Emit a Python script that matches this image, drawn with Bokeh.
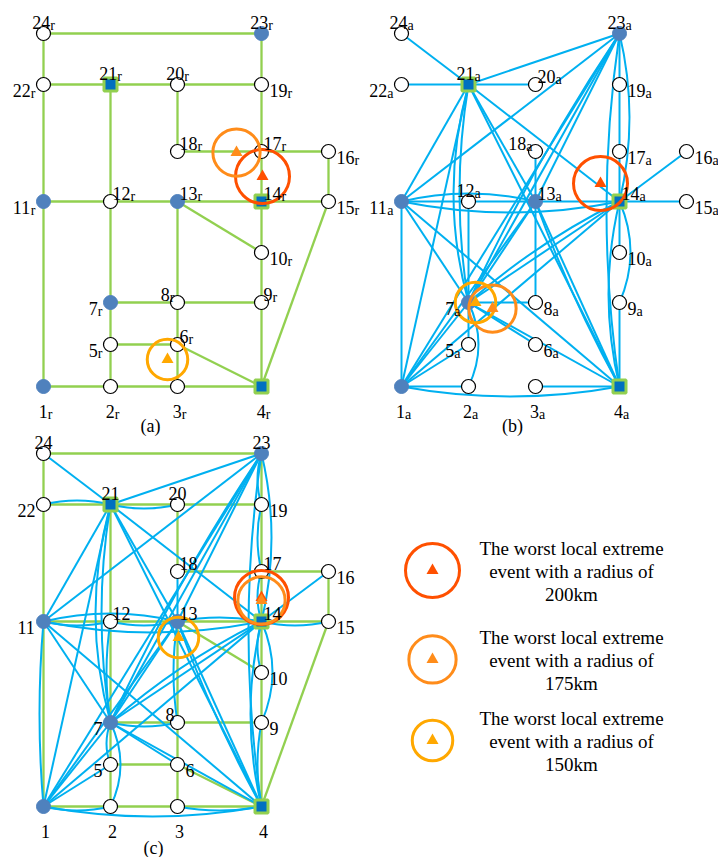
import math
from bokeh.plotting import figure
from bokeh.models import Range1d, ColumnDataSource
from bokeh.core.properties import value
from bokeh.embed import file_html
from bokeh.resources import INLINE

# ---------------- data ----------------
node_ids = list(range(1, 25))
# node coordinates on the map of one panel
node_x = [43, 110, 177, 261, 110, 177, 110, 177, 261, 261, 43, 110,
          177, 261, 328, 328, 261, 177, 261, 177, 110, 43, 261, 43]
node_y = [386, 386, 386, 386, 344, 344, 302, 302, 302, 252, 201, 201,
          201, 201, 201, 151, 151, 151, 84, 84, 84, 84, 33, 33]
source_nodes = [1, 7, 11, 13, 23]     # filled blue nodes
hub_nodes = [4, 14, 21]               # square nodes

road_edges = [(24, 23), (24, 22), (22, 21), (21, 20), (20, 19), (23, 19),
              (22, 11), (21, 12), (20, 18), (19, 17), (18, 17), (17, 16),
              (17, 14), (16, 15), (11, 12), (12, 13), (13, 14), (14, 15),
              (13, 10), (14, 10), (12, 7), (13, 8), (10, 9), (15, 4),
              (7, 8), (8, 9), (7, 5), (8, 6), (9, 4), (5, 6), (6, 4),
              (6, 3), (5, 2), (11, 1), (1, 2), (2, 3), (3, 4)]

# communication links: (from, to, bow)
comm_edges = [(21, 24, 0), (21, 22, 0), (21, 20, 0), (21, 23, 0), (21, 11, 0),
              (21, 1, 0), (21, 13, 0), (21, 4, 0), (21, 14, 0),
              (21, 7, 9), (21, 7, 15),
              (23, 11, 0), (23, 13, 0), (23, 7, 0), (23, 7, 6), (23, 1, 0),
              (23, 19, 0), (19, 17, 0), (17, 14, 0), (23, 14, -10), (23, 4, 13),
              (14, 13, 0), (14, 15, 0), (14, 16, 0), (14, 10, 0),
              (14, 7, 0), (14, 7, 6), (14, 1, 0), (14, 4, 11), (14, 9, -11),
              (13, 18, 0), (13, 8, 0), (12, 13, 0), (11, 12, 0),
              (13, 7, 0), (13, 1, 0), (13, 4, 0), (13, 4, 4),
              (11, 13, -8), (11, 14, 11),
              (11, 1, 0), (11, 7, 0), (11, 4, 0),
              (12, 7, 0), (7, 5, 0), (7, 8, 0), (7, 6, 0), (7, 4, 0), (7, 1, 0),
              (7, 2, -10), (1, 5, 0), (1, 2, 0), (1, 4, 10), (3, 4, 0), (9, 4, 0)]

event_km = [200, 175, 150]
event_colors = ["#ff5000", "#ff8c1a", "#ffa800"]
events_a = {"x": [262, 236, 167], "y": [176, 152, 359]}
events_b = {"x": [242, 134, 117], "y": [183, 308, 302]}
events_c = {"x": [261, 261, 178], "y": [177, 180, 217]}

legend_lines = [["The worst local extreme", "event with a radius of", "200km"],
                ["The worst local extreme", "event with a radius of", "175km"],
                ["The worst local extreme", "event with a radius of", "150km"]]

label_pos_a = {24: "above", 23: "above", 22: "left", 21: "above", 20: "above", 19: "right",
               18: "ar", 17: "ar", 16: "right", 11: "left", 12: "ar", 13: "ar", 14: "ar",
               15: "right", 10: "right", 9: "ar", 8: "al", 7: "left", 5: "left", 6: "ar",
               1: "below", 2: "below", 3: "below", 4: "below"}
label_pos_b = {24: "above", 23: "above", 22: "left", 21: "above", 20: "ar", 19: "right",
               18: "al", 17: "right", 16: "right", 11: "left", 12: "above", 13: "ar", 14: "ar",
               15: "right", 10: "right", 9: "right", 8: "right", 7: "left", 5: "left", 6: "right",
               1: "below", 2: "below", 3: "below", 4: "below"}
label_pos_c = {24: "above", 23: "above", 22: "left", 21: "above", 20: "above", 19: "right",
               18: "ar", 17: "ar", 16: "right", 11: "left", 12: "ar", 13: "ar", 14: "ar",
               15: "right", 10: "right", 9: "right", 8: "al", 7: "left", 5: "left", 6: "right",
               1: "below", 2: "below", 3: "below", 4: "below"}

panels = [("a", (0, 0), "r", label_pos_a, events_a, "(a)"),
          ("b", (358, 0), "a", label_pos_b, events_b, "(b)"),
          ("c", (0, 420), "", label_pos_c, events_c, "(c)")]

# ---------------- styles ----------------
GREEN = "#92d050"
BLUE = "#00b0f0"
DOT = "#4f81bd"
SQ = "#0070c0"
FONT = value("Liberation Serif")
KM_TO_PX = 0.27

W, H = 718, 857
p = figure(width=W, height=H, x_range=Range1d(0, W), y_range=Range1d(H, 0),
           output_backend="svg", toolbar_location=None, min_border=0)
p.axis.visible = False
p.grid.visible = False
p.outline_line_color = None
p.background_fill_color = "white"

pos = {n: (node_x[i], node_y[i]) for i, n in enumerate(node_ids)}
road_set = set(frozenset(e) for e in road_edges)


def draw_segments(edges, dx, dy, color, width, bow_override=None):
    sx0, sy0, sx1, sy1 = [], [], [], []
    q = {"x0": [], "y0": [], "x1": [], "y1": [], "cx": [], "cy": []}
    for a, b, bow in edges:
        if bow_override is not None and bow == 0 and frozenset((a, b)) in road_set:
            bow = bow_override
        x0, y0 = pos[a][0] + dx, pos[a][1] + dy
        x1, y1 = pos[b][0] + dx, pos[b][1] + dy
        if bow == 0:
            sx0.append(x0); sy0.append(y0); sx1.append(x1); sy1.append(y1)
        else:
            L = math.hypot(x1 - x0, y1 - y0)
            nx, ny = -(y1 - y0) / L, (x1 - x0) / L
            q["x0"].append(x0); q["y0"].append(y0); q["x1"].append(x1); q["y1"].append(y1)
            q["cx"].append((x0 + x1) / 2 + 2 * bow * nx)
            q["cy"].append((y0 + y1) / 2 + 2 * bow * ny)
    if sx0:
        p.segment(x0=sx0, y0=sy0, x1=sx1, y1=sy1, line_color=color, line_width=width)
    if q["x0"]:
        p.quadratic(x0="x0", y0="y0", x1="x1", y1="y1", cx="cx", cy="cy",
                    source=ColumnDataSource(q), line_color=color, line_width=width)


SUB_W = {"r": 4.7, "a": 6.2, "": 0.0}


def label_xy(nx, ny, num, sub, where):
    nw = 9.0 * len(num)
    Wd = nw + SUB_W[sub]
    if where == "above":
        left, base = nx - Wd / 2, ny - 11
    elif where == "below":
        left, base = nx - Wd / 2 + 2, ny + 25
    elif where == "left":
        left, base = nx - 8 - Wd, ny + 6
    elif where == "right":
        left, base = nx + 8, ny + 6
    elif where == "ar":
        left, base = nx + 2, ny - 8
    else:  # "al"
        left, base = nx - 3 - Wd, ny - 8
    return left, base, left + nw


for key, (dx, dy), sub, lpos, ev, cap in panels:
    if key in ("a", "c"):
        draw_segments([(a, b, 0) for a, b in road_edges], dx, dy, GREEN, 2.3)
    if key in ("b", "c"):
        draw_segments(comm_edges, dx, dy, BLUE, 2.0, bow_override=(4 if key == "c" else None))

    # nodes
    wx = [pos[n][0] + dx for n in node_ids if n not in source_nodes and n not in hub_nodes]
    wy = [pos[n][1] + dy for n in node_ids if n not in source_nodes and n not in hub_nodes]
    p.scatter(wx, wy, marker="circle", size=14, fill_color="white", line_color="black", line_width=1.2)
    p.scatter([pos[n][0] + dx for n in source_nodes], [pos[n][1] + dy for n in source_nodes],
              marker="circle", size=14, fill_color=DOT, line_color=DOT)
    p.scatter([pos[n][0] + dx for n in hub_nodes], [pos[n][1] + dy for n in hub_nodes],
              marker="square", size=13, fill_color=SQ, line_color=GREEN, line_width=3)

    # events
    ex = [x + dx for x in ev["x"]]
    ey = [y + dy for y in ev["y"]]
    p.scatter(ex, ey, marker="circle", size=[k * KM_TO_PX for k in event_km],
              fill_color=None, line_color=event_colors, line_width=3)
    p.scatter(ex, ey, marker="triangle", size=12, fill_color=event_colors, line_color=None)

    # labels
    nxs, nys, nts, sxs, sys_, sts = [], [], [], [], [], []
    for n in node_ids:
        left, base, sx = label_xy(pos[n][0] + dx, pos[n][1] + dy, str(n), sub, lpos[n])
        nxs.append(left); nys.append(base); nts.append(str(n))
        if sub:
            sxs.append(sx); sys_.append(base + 3); sts.append(sub)
    p.text(nxs, nys, text=nts, text_align="left", text_baseline="alphabetic",
           text_font=FONT, text_font_size=value("18px"), text_color="black")
    if sts:
        p.text(sxs, sys_, text=sts, text_align="left", text_baseline="alphabetic",
               text_font=FONT, text_font_size=value("14px"), text_color="black")

# captions
p.text([150, 512, 153], [425, 425, 847], text=["(a)", "(b)", "(c)"], text_align="center",
       text_baseline="alphabetic", text_font=FONT, text_font_size=value("18px"), text_color="black")

# legend
leg_x = [432, 432, 432]
leg_y = [570, 659, 740]
p.scatter(leg_x, leg_y, marker="circle", size=[k * KM_TO_PX for k in event_km],
          fill_color=None, line_color=event_colors, line_width=3)
p.scatter(leg_x, leg_y, marker="triangle", size=12, fill_color=event_colors, line_color=None)
tx, ty, tt = [], [], []
for i, lines in enumerate(legend_lines):
    for j, t in enumerate(lines):
        tx.append(571)
        ty.append(leg_y[i] - 22 + 23 * j)
        tt.append(t)
p.text(tx, ty, text=tt, text_align="center", text_baseline="middle",
       text_font=FONT, text_font_size=value("19px"), text_color="black")

open("out.html", "w").write(file_html(p, INLINE))
